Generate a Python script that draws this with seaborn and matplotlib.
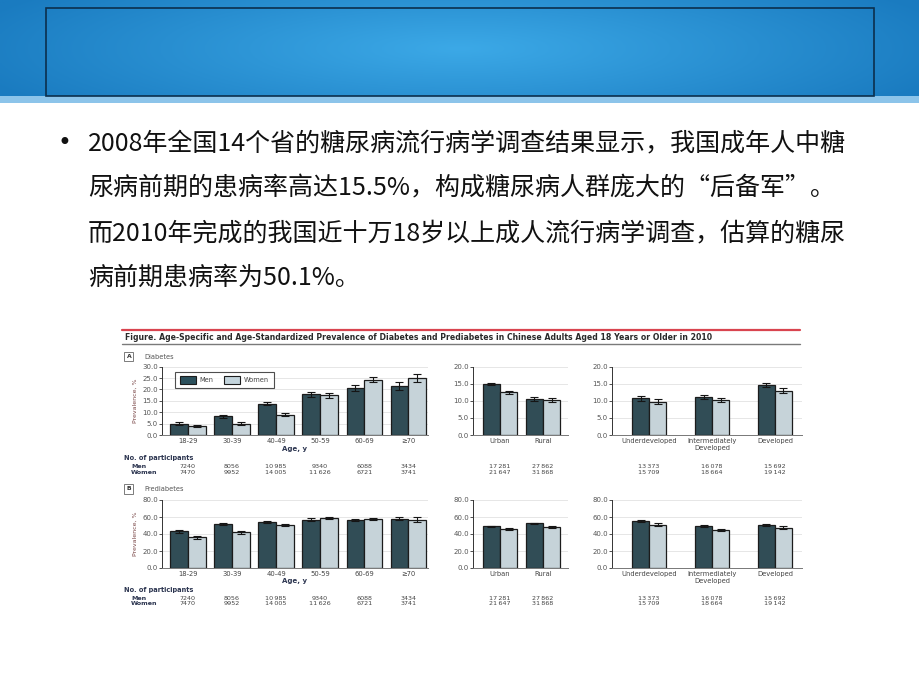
import numpy as np
import pandas as pd
import matplotlib
matplotlib.use('Agg')
import matplotlib.pyplot as plt
from matplotlib.patches import Rectangle, Patch
from matplotlib.transforms import blended_transform_factory
import seaborn as sns

sns.set_theme(style='white')
plt.rcParams['font.family'] = ['DejaVu Sans']

W, H = 920, 690

# ---------------- data ----------------
age_groups = ['18-29', '30-39', '40-49', '50-59', '60-69', '≥70']
area_groups = ['Urban', 'Rural']
dev_groups = ['Underdeveloped', 'Intermediately\nDeveloped', 'Developed']

diab_age_men = [5.0, 8.2, 13.7, 17.8, 20.6, 21.5]
diab_age_women = [4.0, 5.0, 9.0, 17.4, 24.3, 25.0]
diab_age_men_err = [0.5, 0.6, 0.6, 1.0, 1.3, 1.8]
diab_age_women_err = [0.6, 0.5, 0.6, 1.1, 1.2, 1.8]

diab_area_men = [14.9, 10.6]
diab_area_women = [12.5, 10.2]
diab_area_men_err = [0.4, 0.5]
diab_area_women_err = [0.5, 0.5]

diab_dev_men = [10.7, 11.1, 14.6]
diab_dev_women = [9.8, 10.2, 13.0]
diab_dev_men_err = [0.7, 0.5, 0.5]
diab_dev_women_err = [0.8, 0.5, 0.7]

pre_age_men = [43.0, 51.5, 54.0, 57.0, 56.5, 58.0]
pre_age_women = [36.0, 42.0, 50.5, 58.5, 57.5, 57.0]
pre_age_men_err = [1.5, 1.0, 1.0, 1.5, 1.2, 1.5]
pre_age_women_err = [1.5, 1.5, 1.0, 1.0, 1.5, 2.5]

pre_area_men = [49.0, 52.5]
pre_area_women = [45.5, 48.0]
pre_area_men_err = [1.0, 0.8]
pre_area_women_err = [1.0, 1.0]

pre_dev_men = [55.0, 49.5, 50.5]
pre_dev_women = [51.0, 44.5, 47.5]
pre_dev_men_err = [1.0, 1.0, 1.0]
pre_dev_women_err = [1.5, 1.0, 1.5]

ts = '\u2009'
age_men_n = ['7240', '8056', '10' + ts + '985', '9340', '6088', '3434']
age_women_n = ['7470', '9952', '14' + ts + '005', '11' + ts + '626', '6721', '3741']
area_men_n = ['17' + ts + '281', '27' + ts + '862']
area_women_n = ['21' + ts + '647', '31' + ts + '868']
dev_men_n = ['13' + ts + '373', '16' + ts + '078', '15' + ts + '692']
dev_women_n = ['15' + ts + '709', '18' + ts + '664', '19' + ts + '142']

bullet_lines = [
    '2008年全国14个省的糖尿病流行病学调查结果显示，我国成年人中糖',
    '尿病前期的患病率高达15.5%，构成糖尿病人群庞大的“后备军”。',
    '而2010年完成的我国近十万18岁以上成人流行病学调查，估算的糖尿',
    '病前期患病率为50.1%。',
]
fig_title = ('Figure. Age-Specific and Age-Standardized Prevalence of Diabetes and '
             'Prediabetes in Chinese Adults Aged 18 Years or Older in 2010')

MEN = '#2b505c'
WOMEN = '#c3d4dc'
EDGE = '#1c1c1c'
NAVY = '#2c3550'

fig = plt.figure(figsize=(W / 100, H / 100), dpi=100)
fig.patch.set_facecolor('white')


def fx(x):
    return x / W


def fy(y):
    return 1 - y / H


# ---------------- background band ----------------
bg = fig.add_axes([0, 0, 1, 1], zorder=-10)
bg.set_xlim(0, W)
bg.set_ylim(H, 0)
bg.axis('off')
xx = np.linspace(-1, 1, 400)
yy = np.linspace(-1, 1, 60)
X, Y = np.meshgrid(xx, yy)
r = np.clip(np.sqrt((X * 0.9) ** 2 + (Y * 0.5) ** 2), 0, 1)
c_in = np.array([0x3c, 0xa9, 0xe7]) / 255
c_out = np.array([0x1a, 0x7b, 0xc0]) / 255
img = c_in[None, None, :] * (1 - r[..., None]) + c_out[None, None, :] * r[..., None]
bg.imshow(img, extent=[0, W, 97, 0], aspect='auto', zorder=0)
bg.add_patch(Rectangle((0, 96), W, 7, facecolor='#8cc4ea', edgecolor='none', zorder=1))
bg.add_patch(Rectangle((46, 8), 828, 87.5, facecolor='none', edgecolor='#0b2f4d', lw=1.2, zorder=2))

# ---------------- bullet text ----------------
cjk = ['Noto Sans CJK SC', 'DejaVu Sans']
fig.text(fx(58), fy(143), '•', fontsize=17, family=['DejaVu Sans'], va='center', ha='left',
         color='#111')
for i, line in enumerate(bullet_lines):
    fig.text(fx(88), fy(143 + 45 * i), line, fontsize=18, family=cjk, va='center', ha='left',
             color='#111')

# ---------------- figure header ----------------
bg.plot([122, 800], [330, 330], color='#d9444f', lw=1.6, zorder=3)
bg.plot([122, 800], [344, 344], color='#7a7a7a', lw=1.0, zorder=3)
fig.text(fx(125), fy(337), fig_title, fontsize=5.6, weight='bold', color='#2a2a2a',
         va='center', ha='left')

for lab, name, yy_ in [('A', 'Diabetes', 356.5), ('B', 'Prediabetes', 489)]:
    fig.text(fx(126.5), fy(yy_), lab, fontsize=4.4, weight='bold', color='#333', va='center',
             ha='left', bbox=dict(boxstyle='square,pad=0.35', fc='white', ec='#666', lw=0.6))
    fig.text(fx(144), fy(yy_), name, fontsize=4.8, color='#555', va='center', ha='left')


def panel(ax, groups, men, women, men_err, women_err, ymax, step, width, xlim,
          ylabel=False, legend=False):
    n = len(groups)
    df = pd.DataFrame({'group': groups * 2,
                       'sex': ['Men'] * n + ['Women'] * n,
                       'value': men + women})
    sns.barplot(data=df, x='group', y='value', hue='sex', order=groups,
                hue_order=['Men', 'Women'], palette={'Men': MEN, 'Women': WOMEN},
                width=width, errorbar=None, edgecolor=EDGE, linewidth=0.9,
                ax=ax, legend=False, zorder=3)
    for cont, errs in zip(ax.containers, [men_err, women_err]):
        xs = [b.get_x() + b.get_width() / 2 for b in cont]
        hs = [b.get_height() for b in cont]
        ax.errorbar(xs, hs, yerr=errs, fmt='none', ecolor='#151515', elinewidth=0.8,
                    capsize=2.6, capthick=0.8, zorder=5)
    ax.set_ylim(0, ymax)
    ax.set_xlim(*xlim)
    ticks = np.arange(0, ymax + 0.01, step)
    ax.set_yticks(ticks)
    ax.set_yticklabels([f'{v:.1f}' for v in ticks])
    ax.yaxis.grid(True, color='#e2e2e2', lw=0.6, zorder=0)
    ax.set_axisbelow(True)
    ax.set_xlabel('')
    ax.set_facecolor('none')
    for s in ['top', 'right']:
        ax.spines[s].set_visible(False)
    ax.spines['left'].set_color('#333')
    ax.spines['left'].set_linewidth(0.7)
    ax.spines['bottom'].set_color('#777')
    ax.spines['bottom'].set_linewidth(0.7)
    ax.tick_params(axis='y', direction='out', length=2, width=0.6, colors='#333',
                   labelsize=5.0, pad=1, left=True, labelcolor='#555')
    ax.tick_params(axis='x', length=0, labelsize=4.9, pad=2.5, labelcolor='#444')
    if ylabel:
        ax.set_ylabel('Prevalence, %', fontsize=4.5, color='#7b4848', labelpad=3)
    else:
        ax.set_ylabel('')
    if legend:
        handles = [Patch(facecolor=MEN, edgecolor=EDGE, lw=0.8),
                   Patch(facecolor=WOMEN, edgecolor=EDGE, lw=0.8)]
        leg = ax.legend(handles, ['Men', 'Women'], loc='upper left',
                        bbox_to_anchor=(0.036, 0.975), ncol=2, fontsize=4.8,
                        frameon=True, fancybox=False, handlelength=2.4,
                        handleheight=1.3, columnspacing=1.6, borderpad=0.7,
                        handletextpad=0.6)
        leg.get_frame().set_edgecolor('#222')
        leg.get_frame().set_linewidth(0.8)
        for t in leg.get_texts():
            t.set_color('#444')


def counts(ax, men_n, women_n, ym, yw):
    tr = blended_transform_factory(ax.transData, fig.transFigure)
    for i, (m, w) in enumerate(zip(men_n, women_n)):
        ax.text(i, fy(ym), m, transform=tr, fontsize=4.6, color='#444', ha='center',
                va='center')
        ax.text(i, fy(yw), w, transform=tr, fontsize=4.6, color='#444', ha='center',
                va='center')


rows = [
    dict(top=366.7, bot=435, ymax=30, step=5, mid_ymax=20, mid_step=5,
         data=(diab_age_men, diab_age_women, diab_age_men_err, diab_age_women_err),
         area=(diab_area_men, diab_area_women, diab_area_men_err, diab_area_women_err),
         dev=(diab_dev_men, diab_dev_women, diab_dev_men_err, diab_dev_women_err),
         agey=448.5, nop=458, ym=466.7, yw=472.3, legend=True),
    dict(top=500, bot=568, ymax=80, step=20, mid_ymax=80, mid_step=20,
         data=(pre_age_men, pre_age_women, pre_age_men_err, pre_age_women_err),
         area=(pre_area_men, pre_area_women, pre_area_men_err, pre_area_women_err),
         dev=(pre_dev_men, pre_dev_women, pre_dev_men_err, pre_dev_women_err),
         agey=580.5, nop=590, ym=598, yw=603.6, legend=False),
]

for rw in rows:
    b = fy(rw['bot'])
    h = (rw['bot'] - rw['top']) / H
    ax1 = fig.add_axes([fx(162), b, (428 - 162) / W, h])
    ax2 = fig.add_axes([fx(473), b, (568 - 473) / W, h])
    ax3 = fig.add_axes([fx(612), b, (802 - 612) / W, h])
    panel(ax1, age_groups, *rw['data'], rw['ymax'], rw['step'], 0.8, (-0.59, 5.45),
          ylabel=True, legend=rw['legend'])
    panel(ax2, area_groups, *rw['area'], rw['mid_ymax'], rw['mid_step'], 0.8, (-0.63, 1.58))
    panel(ax3, dev_groups, *rw['dev'], rw['mid_ymax'], rw['mid_step'], 0.54, (-0.59, 2.43))
    for lbl in ax3.get_xticklabels():
        lbl.set_linespacing(1.2)
    trx = blended_transform_factory(ax1.transAxes, fig.transFigure)
    ax1.text(0.5, fy(rw['agey']), 'Age, y', transform=trx, fontsize=5.0, weight='bold',
             color=NAVY, ha='center', va='center')
    fig.text(fx(124), fy(rw['nop']), 'No. of participants', fontsize=4.8, weight='bold',
             color=NAVY, ha='left', va='center')
    fig.text(fx(131), fy(rw['ym']), 'Men', fontsize=4.6, weight='bold', color=NAVY,
             ha='left', va='center')
    fig.text(fx(131), fy(rw['yw']), 'Women', fontsize=4.6, weight='bold', color=NAVY,
             ha='left', va='center')
    counts(ax1, age_men_n, age_women_n, rw['ym'], rw['yw'])
    counts(ax2, area_men_n, area_women_n, rw['ym'], rw['yw'])
    counts(ax3, dev_men_n, dev_women_n, rw['ym'], rw['yw'])

fig.savefig('out.png', dpi=100)
